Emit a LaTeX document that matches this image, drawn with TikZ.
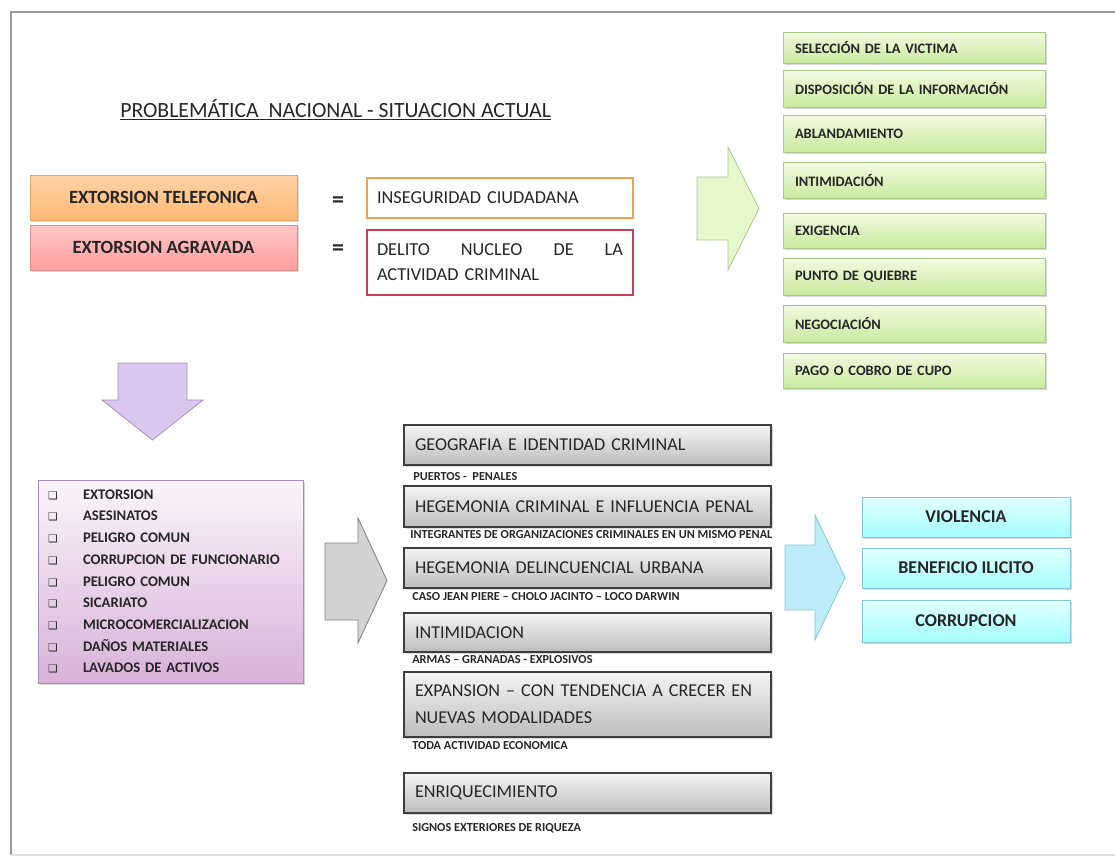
\documentclass[tikz,border=0pt]{standalone}
\usepackage{fontspec}
\setmainfont{Carlito}
\newfontfamily\simbolos{DejaVu Sans}
\usepackage{tikz}
\usetikzlibrary{shadows}

\definecolor{texto}{HTML}{262626}
\definecolor{marco}{HTML}{9A9A9A}
\definecolor{bordeNar}{HTML}{E2A868}
\definecolor{bordeRoj}{HTML}{D88C8C}
\definecolor{lineaNar}{HTML}{F0A24E}
\definecolor{lineaRoj}{HTML}{C83E55}
\definecolor{bordeVer}{HTML}{A9C98A}
\definecolor{flechaVer}{HTML}{E6F8CC}
\definecolor{bordeMor}{HTML}{A68CC6}
\definecolor{flechaMor}{HTML}{DAC8EE}
\definecolor{bordeGri}{HTML}{3E3E3E}
\definecolor{flechaGri}{HTML}{D2D2D2}
\definecolor{bordeAzu}{HTML}{86C6D6}
\definecolor{flechaAzu}{HTML}{BDEDF8}
\definecolor{verdeClaro}{HTML}{F3FAE2}
\definecolor{verdeOsc}{HTML}{C9EA9E}

\begin{document}
\begin{tikzpicture}[x=0.75pt, y=-0.75pt,
  caja/.style={rectangle, draw, line width=0.6pt, inner sep=0pt, text=texto,
    drop shadow={shadow xshift=1.2pt, shadow yshift=-1.2pt, opacity=.3}},
  naranja/.style={caja, draw=bordeNar, top color=orange!35, middle color=orange!12, bottom color=orange!55,
    minimum width=200.25pt, minimum height=33.75pt, font=\fontsize{14}{16}\bfseries},
  rosa/.style={caja, draw=bordeRoj, top color=red!22, middle color=red!8, bottom color=red!38,
    minimum width=200.25pt, minimum height=33.75pt, font=\fontsize{14}{16}\bfseries},
  blanca/.style={rectangle, draw, line width=1pt, fill=white, inner xsep=7.5pt, inner ysep=0pt,
    text width=184.5pt, align=left, text=texto, font=\fontsize{13.7}{18.75}\selectfont},
  verde/.style={caja, draw=bordeVer, top color=verdeClaro, bottom color=verdeOsc,
    inner xsep=9pt, text width=178.5pt, align=left, minimum height=27pt, font=\fontsize{10.8}{13}\bfseries},
  gris/.style={caja, draw=bordeGri, line width=0.9pt, top color=white!96!black, middle color=white!90!black,
    bottom color=white!74!black, inner xsep=8.25pt, text width=258.75pt, align=left,
    minimum height=30pt, font=\fontsize{13.6}{20.25}\selectfont},
  nota/.style={anchor=west, inner sep=0pt, text=texto, font=\fontsize{9.2}{11}\bfseries},
  azul/.style={caja, draw=bordeAzu, top color=cyan!12, bottom color=cyan!35,
    minimum width=156pt, minimum height=30pt, font=\fontsize{13.5}{16}\bfseries},
  igual/.style={inner sep=0pt, text=texto, font=\fontsize{18}{18}\bfseries}
]
\useasboundingbox (0,0) rectangle (1115,861);

% Marco
\draw[marco, line width=1pt] (1115,12) -- (11,12) -- (11,855);
\draw[white!88!black, line width=0.8pt] (11,855) -- (1115,855);

% Titulo
\node[anchor=base west, inner sep=0pt, text=texto, font=\fontsize{16.3}{18}\selectfont] (titulo) at (120,117)
  {\underline{PROBLEMÁTICA\ \ NACIONAL - SITUACION ACTUAL}};

% Equivalencias
\node[naranja] (telefonica) at (163.5,197.5) {EXTORSION TELEFONICA};
\node[rosa] (agravada) at (163.5,247.5) {EXTORSION AGRAVADA};
\node[igual] (igual1) at (338,202) {=};
\node[igual] (igual2) at (338,250) {=};
\node[blanca, draw=lineaNar, minimum height=30pt] (inseguridad) at (500,198) {INSEGURIDAD CIUDADANA};
\node[blanca, draw=lineaRoj, minimum height=48.75pt] (delito) at (500,262.5)
  {DELITO\hfill NUCLEO\hfill DE\hfill LA\\ACTIVIDAD CRIMINAL};

% Flecha verde
\filldraw[fill=flechaVer, draw=bordeVer, line width=0.6pt]
  (697,177) -- (728,177) -- (728,147) -- (759,208.5) -- (728,270) -- (728,240) -- (697,240) -- cycle;

% Fases
\node[verde, minimum height=23.25pt] (seleccion) at (914,47.5) {SELECCIÓN DE LA VICTIMA};
\node[verde, minimum height=27.75pt] (disposicion) at (914,88.5) {DISPOSICIÓN DE LA INFORMACIÓN};
\node[verde, minimum height=27.75pt] (ablandamiento) at (914,133.5) {ABLANDAMIENTO};
\node[verde] (intimidacion) at (914,180) {INTIMIDACIÓN};
\node[verde, minimum height=26.25pt] (exigencia) at (914,230.5) {EXIGENCIA};
\node[verde, minimum height=27.75pt] (quiebre) at (914,276.5) {PUNTO DE QUIEBRE};
\node[verde, minimum height=27.75pt] (negociacion) at (914,323.5) {NEGOCIACIÓN};
\node[verde, minimum height=26.25pt] (pago) at (914,370.5) {PAGO O COBRO DE CUPO};

% Flecha morada
\filldraw[fill=flechaMor, draw=bordeMor, line width=0.6pt]
  (118,363) -- (187,363) -- (187,400) -- (203,400) -- (152.5,440) -- (102,400) -- (118,400) -- cycle;

% Delitos
\node[caja, draw=bordeMor, top color=violet!4!white, bottom color=violet!30,
  minimum width=198.75pt, minimum height=152.25pt, inner xsep=7.5pt, text width=183.75pt, align=left,
  font=\fontsize{11}{16.3}\bfseries] (delitos) at (170.5,581.5)
  {\makebox[26.25pt][l]{\simbolos\fontsize{8}{8}\selectfont ❑}EXTORSION\\
   \makebox[26.25pt][l]{\simbolos\fontsize{8}{8}\selectfont ❑}ASESINATOS\\
   \makebox[26.25pt][l]{\simbolos\fontsize{8}{8}\selectfont ❑}PELIGRO COMUN\\
   \makebox[26.25pt][l]{\simbolos\fontsize{8}{8}\selectfont ❑}CORRUPCION DE FUNCIONARIO\\
   \makebox[26.25pt][l]{\simbolos\fontsize{8}{8}\selectfont ❑}PELIGRO COMUN\\
   \makebox[26.25pt][l]{\simbolos\fontsize{8}{8}\selectfont ❑}SICARIATO\\
   \makebox[26.25pt][l]{\simbolos\fontsize{8}{8}\selectfont ❑}MICROCOMERCIALIZACION\\
   \makebox[26.25pt][l]{\simbolos\fontsize{8}{8}\selectfont ❑}DAÑOS MATERIALES\\
   \makebox[26.25pt][l]{\simbolos\fontsize{8}{8}\selectfont ❑}LAVADOS DE ACTIVOS};

% Flecha gris
\filldraw[fill=flechaGri, draw=gray, line width=0.6pt]
  (325,543) -- (358,543) -- (358,518) -- (387,580.5) -- (358,643) -- (358,620) -- (325,620) -- cycle;

% Caracteristicas
\node[gris] (geografia) at (587.5,445) {GEOGRAFIA E IDENTIDAD CRIMINAL};
\node[nota] (puertos) at (413,477) {PUERTOS -\ \ PENALES};
\node[gris, minimum height=30.75pt] (hegemonia) at (587.5,506.5) {HEGEMONIA CRIMINAL E INFLUENCIA PENAL};
\node[nota] (integrantes) at (410,535) {INTEGRANTES DE ORGANIZACIONES CRIMINALES EN UN MISMO PENAL};
\node[gris] (urbana) at (587.5,568) {HEGEMONIA DELINCUENCIAL URBANA};
\node[nota] (caso) at (412,597) {CASO JEAN PIERE -- CHOLO JACINTO -- LOCO DARWIN};
\node[gris, minimum height=29.25pt] (intimidacion2) at (587.5,632.5) {INTIMIDACION};
\node[nota] (armas) at (412,660) {ARMAS -- GRANADAS - EXPLOSIVOS};
\node[gris, minimum height=48.75pt] (expansion) at (587.5,704.5) {EXPANSION -- CON TENDENCIA A CRECER EN\\NUEVAS MODALIDADES};
\node[nota] (economica) at (412,746) {TODA ACTIVIDAD ECONOMICA};
\node[gris] (enriquecimiento) at (587.5,793) {ENRIQUECIMIENTO};
\node[nota] (signos) at (412,828) {SIGNOS EXTERIORES DE RIQUEZA};

% Flecha azul
\filldraw[fill=flechaAzu, draw=bordeAzu, line width=0.6pt]
  (785,545) -- (815,545) -- (815,515) -- (845,577.5) -- (815,640) -- (815,610) -- (785,610) -- cycle;

% Consecuencias
\node[azul] (violencia) at (966,517) {VIOLENCIA};
\node[azul] (beneficio) at (966,568) {BENEFICIO ILICITO};
\node[azul, minimum height=31.5pt] (corrupcion) at (966,621) {CORRUPCION};
\end{tikzpicture}
\end{document}
